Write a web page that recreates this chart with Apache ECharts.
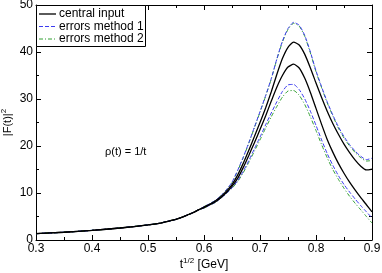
<!DOCTYPE html>
<html><head><meta charset="utf-8">
<script src="https://cdn.jsdelivr.net/npm/echarts@6/dist/echarts.min.js"></script>
<style>html,body{margin:0;padding:0;background:#fff}#c{width:382px;height:273px}</style>
</head><body><div id="c"></div>
<script>
// common low-energy part (all curves coincide)
const xLow = [0.30, 0.35, 0.40, 0.45, 0.50, 0.52, 0.54, 0.55, 0.56, 0.57, 0.58, 0.59];
const yLow = [1.35, 1.65, 2.05, 2.55, 3.2, 3.55, 4.1, 4.4, 4.8, 5.3, 5.8, 6.4];
// resonance region, x = 0.60 ... 0.90
const xRes = [0.60, 0.61, 0.62, 0.63, 0.64, 0.65, 0.66, 0.67, 0.68, 0.69, 0.70, 0.71, 0.72, 0.73, 0.74, 0.75, 0.76, 0.77, 0.78, 0.79, 0.80, 0.81, 0.82, 0.83, 0.84, 0.85, 0.86, 0.87, 0.88, 0.89, 0.90];
const centralUpper = [7.0, 7.6, 8.3, 9.2, 10.4, 11.8, 13.8, 16.3, 19.1, 22.0, 25.0, 28.1, 31.5, 35.2, 38.6, 41.0, 42.1, 41.5, 39.5, 36.6, 33.4, 30.3, 27.4, 24.8, 22.5, 20.4, 18.6, 17.0, 15.7, 14.9, 15.1];
const centralLower = [6.9, 7.5, 8.1, 9.0, 10.1, 11.4, 13.1, 15.4, 18.0, 20.7, 23.5, 26.4, 29.5, 32.5, 35.0, 36.8, 37.4, 36.6, 34.4, 31.4, 28.0, 24.6, 21.4, 18.7, 16.3, 14.2, 12.3, 10.6, 9.0, 7.5, 6.0];
const method1Upper = [7.1, 7.7, 8.4, 9.4, 10.7, 12.3, 14.8, 17.6, 20.7, 24.0, 27.3, 30.7, 34.3, 38.5, 42.3, 45.0, 46.3, 45.7, 43.5, 40.0, 36.0, 32.6, 29.4, 26.6, 24.1, 22.0, 20.3, 18.9, 17.8, 17.1, 17.4];
const method1Lower = [6.8, 7.4, 8.0, 8.9, 9.9, 11.1, 12.6, 14.6, 16.9, 19.4, 21.9, 24.5, 27.0, 29.4, 31.6, 33.0, 33.1, 32.0, 30.0, 27.4, 24.4, 21.3, 18.4, 15.9, 13.7, 11.8, 10.2, 8.7, 7.3, 6.0, 4.7];
const method2Upper = [7.1, 7.7, 8.4, 9.4, 10.7, 12.2, 14.7, 17.5, 20.6, 23.9, 27.2, 30.6, 34.2, 38.4, 42.1, 44.8, 46.1, 45.5, 43.3, 39.8, 35.8, 32.4, 29.2, 26.4, 23.8, 21.7, 20.0, 18.6, 17.5, 16.8, 16.9];
const method2Lower = [6.8, 7.4, 8.0, 8.9, 9.9, 11.0, 12.4, 14.3, 16.5, 18.9, 21.3, 23.8, 26.2, 28.4, 30.4, 31.7, 31.8, 30.8, 28.8, 26.2, 23.3, 20.3, 17.5, 15.0, 12.9, 11.0, 9.3, 7.8, 6.4, 5.0, 3.6];
const xTicks = ['0.3', '0.4', '0.5', '0.6', '0.7', '0.8', '0.9'];
const yTicks = ['0', '10', '20', '30', '40', '50'];
const legendNames = ['central input', 'errors method 1', 'errors method 2'];

function pts(res) {
  const out = xLow.map((x, i) => [x, yLow[i]]);
  xRes.forEach((x, i) => out.push([x, res[i]]));
  return out;
}
const FONT = 'Liberation Sans';
const chart = echarts.init(document.getElementById('c'), null, {renderer: 'canvas'});
const axBase = {
  type: 'value',
  axisLine: {show: true, onZero: false, lineStyle: {color: '#000', width: 1}},
  axisTick: {show: true, inside: true, length: 5, lineStyle: {color: '#000'}},
  minorTick: {show: true, splitNumber: 2, length: 3, lineStyle: {color: '#000'}},
  splitLine: {show: false},
  minorSplitLine: {show: false}
};
const blue = '#3b3bf0', green = '#33a033';
const dash1 = [4, 2], dash2 = [4, 2, 1, 2];
function line(name, data, color, type, w) {
  return {name, type: 'line', data, showSymbol: false, symbol: 'none', smooth: 0.2,
    lineStyle: {color, width: w, type}, itemStyle: {color}, z: 3, silent: true, animation: false};
}
const legendStyles = [['#000', 'solid', 1.3], [blue, dash1, 1], [green, dash2, 1]];
const rowY = [14, 26.5, 39];
const graphic = [
  {type: 'rect', shape: {x: 36.5, y: 5.5, width: 109, height: 41}, style: {fill: '#fff', stroke: '#000', lineWidth: 1}, z: 10},
  {type: 'text', left: 105, top: 146, style: {text: 'ρ(t) = 1/t', font: '11px "Liberation Sans"', fill: '#000'}}
];
legendNames.forEach((n, i) => {
  graphic.push({type: 'line', shape: {x1: 39, y1: rowY[i], x2: 56, y2: rowY[i]},
    style: {stroke: legendStyles[i][0], lineWidth: legendStyles[i][2], lineDash: legendStyles[i][1] === 'solid' ? null : legendStyles[i][1]}, z: 11});
  graphic.push({type: 'text', x: 59, y: rowY[i], style: {text: n, font: '12px "Liberation Sans"', fill: '#000', textVerticalAlign: 'middle', verticalAlign: 'middle'}, z: 11});
});
chart.setOption({
  animation: false,
  backgroundColor: '#fff',
  grid: {left: 36, right: 10, top: 5, bottom: 33, containLabel: false, outerBoundsMode: 'none'},
  xAxis: [
    Object.assign({}, axBase, {min: 0.3, max: 0.9, interval: 0.1, position: 'bottom',
      axisLabel: {fontFamily: FONT, fontSize: 12, color: '#000', margin: 3,
        formatter: v => xTicks[Math.round((v - 0.3) * 10)]},
      name: '{t|t}{s|1/2}{t| [GeV]}', nameLocation: 'middle', nameGap: 17, nameMoveOverlap: false,
      nameTextStyle: {verticalAlign: 'top', rich: {t: {fontFamily: FONT, fontSize: 12, color: '#000'},
        s: {fontFamily: FONT, fontSize: 8, color: '#000', padding: [0, 0, 8, 0]}}}}),
    Object.assign({}, axBase, {min: 0.3, max: 0.9, interval: 0.1, position: 'top', axisLabel: {show: false}})
  ],
  yAxis: [
    Object.assign({}, axBase, {min: 0, max: 50, interval: 10, position: 'left',
      axisLabel: {fontFamily: FONT, fontSize: 12, color: '#000', margin: 3,
        formatter: v => yTicks[Math.round(v / 10)]},
      name: '{t||F(t)|}{s|2}', nameLocation: 'middle', nameGap: 20, nameRotate: 90, nameMoveOverlap: false,
      nameTextStyle: {verticalAlign: 'bottom', rich: {t: {fontFamily: FONT, fontSize: 11, color: '#000'},
        s: {fontFamily: FONT, fontSize: 8, color: '#000', padding: [0, 0, 8, 0]}}}}),
    Object.assign({}, axBase, {min: 0, max: 50, interval: 10, position: 'right', axisLabel: {show: false}})
  ],
  graphic: graphic,
  series: [
    line('errors method 2', pts(method2Upper), green, dash2, 1),
    line('errors method 2', pts(method2Lower), green, dash2, 1),
    line('errors method 1', pts(method1Upper), blue, dash1, 1),
    line('errors method 1', pts(method1Lower), blue, dash1, 1),
    line('central input', pts(centralUpper), '#000', 'solid', 1.3),
    line('central input', pts(centralLower), '#000', 'solid', 1.3)
  ]
});
</script></body></html>
